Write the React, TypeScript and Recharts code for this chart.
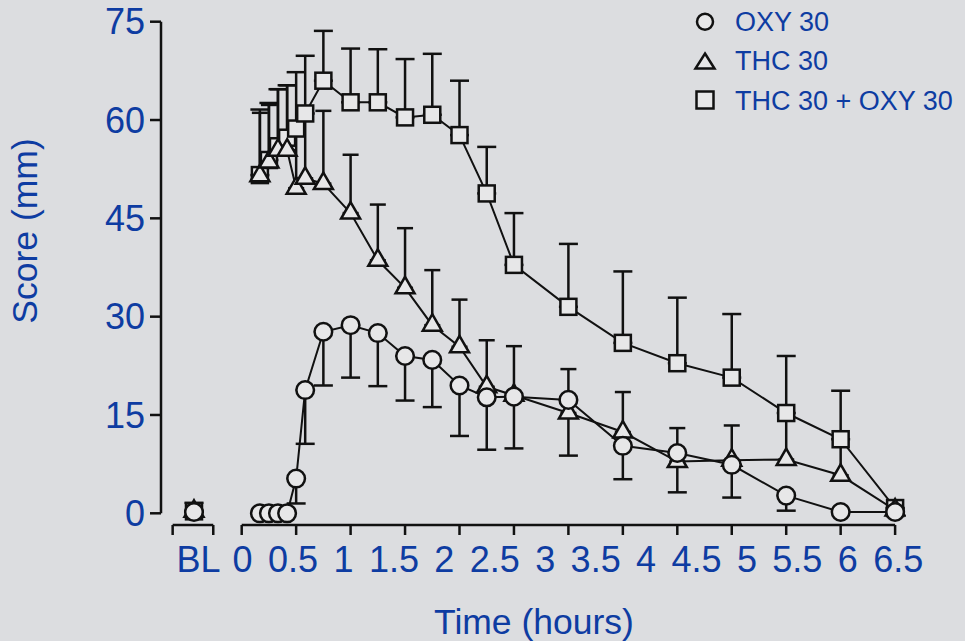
import { LineChart, Line, XAxis, YAxis, ErrorBar, ReferenceLine } from "recharts";

// sample times (hours after dosing)
const hours = [0.167, 0.25, 0.333, 0.417, 0.5, 0.583, 0.75, 1, 1.25, 1.5, 1.75, 2, 2.25, 2.5, 3, 3.5, 4, 4.5, 5, 5.5, 6];

const oxyMean = [0, 0, 0, 0, 5.3, 18.8, 27.7, 28.7, 27.5, 24.0, 23.4, 19.5, 17.7, 17.8, 17.3, 10.3, 9.2, 7.4, 2.7, 0.2, 0.2];
const oxyErr = [0, 0, 0, 0, 3.8, 8.2, 8.2, 8.0, 8.1, 6.8, 7.2, 7.7, 8.0, 7.9, 8.5, 5.1, 6.0, 5.0, 2.3, 0, 0];

const thcMean = [51.5, 53.6, 55.4, 55.4, 49.6, 51.1, 50.3, 45.8, 38.6, 34.4, 28.7, 25.4, 19.3, 18.0, 15.3, 12.4, 7.9, 8.1, 8.2, 5.8, 0.5];
const thcErr = [9.6, 8.7, 9.3, 9.9, 9.1, 9.9, 11.1, 8.9, 8.5, 9.1, 8.4, 7.2, 7.1, 7.5, 6.7, 6.1, 5.1, 5.3, 7.0, 5.5, 0];

const comboMean = [51.6, 53.9, 56.0, 57.3, 58.7, 61.0, 66.0, 62.7, 62.7, 60.4, 60.8, 57.7, 48.8, 37.9, 31.5, 26.0, 22.9, 20.7, 15.3, 11.3, 0.8];
const comboErr = [10.0, 8.7, 8.7, 8.0, 8.6, 8.8, 7.6, 8.2, 8.1, 8.9, 9.3, 8.3, 7.1, 7.9, 9.6, 10.9, 10.0, 9.7, 8.7, 7.4, 0];

// baseline (BL) values: OXY, THC, THC + OXY
const blMean = [0.2, 0.3, 0.3];
const blErr = [0, 0, 1.3];
const BL_POS = -0.438;

const yTicks = [0, 15, 30, 45, 60, 75];
const xTicks = [0, 0.5, 1, 1.5, 2, 2.5, 3, 3.5, 4, 4.5, 5, 5.5, 6];
const blBracket = [-0.634, -0.261];
const timeLabels = ["BL", "0", "0.5", "1", "1.5", "2", "2.5", "3", "3.5", "4", "4.5", "5", "5.5", "6", "6.5"];
const labelPos = [-0.437, 0, 0.5, 1, 1.5, 2, 2.5, 3, 3.5, 4, 4.5, 5, 5.5, 6, 6.5];

const X_MIN = -0.741;
const X_MAX = 6.1;
const L_MIN = -0.809;
const L_MAX = 6.577;
const Y_MIN = -1.785;
const TICK_END = -3.31;

const BG = "#dcdde0";
const FILL = "#e7e7e8";
const INK = "#111";
const BLUE = "#0e3ca2";
const FONT = '"Liberation Sans", Arial, Helvetica, sans-serif';

const toPoints = (mean: number[], err: number[], down: boolean) =>
  hours.map((t, i) => ({ t, y: mean[i], e: down ? [err[i], 0] : [0, err[i]] }));

const oxyData = toPoints(oxyMean, oxyErr, true);
const thcData = toPoints(thcMean, thcErr, false);
const comboData = toPoints(comboMean, comboErr, false);
const oxyBL = [{ t: BL_POS, y: blMean[0], e: [blErr[0], 0] }];
const thcBL = [{ t: BL_POS, y: blMean[1], e: [0, blErr[1]] }];
const comboBL = [{ t: BL_POS, y: blMean[2], e: [0, blErr[2]] }];
// anchors the label axis so it gets its own scale
const labelAnchor = [{ t: L_MIN, y: Y_MIN }, { t: L_MAX, y: Y_MIN }];

const labelFor = (v: number) => {
  const i = labelPos.findIndex((p) => Math.abs(p - v) < 1e-6);
  return i >= 0 ? timeLabels[i] : "";
};

function shapeAt(shape: string, cx: number, cy: number, key?: any) {
  if (shape === "circle")
    return <circle key={key} cx={cx} cy={cy} r={8.8} fill={FILL} stroke={INK} strokeWidth={2.5} />;
  if (shape === "square")
    return <rect key={key} x={cx - 8} y={cy - 8} width={16} height={16} fill={FILL} stroke={INK} strokeWidth={2.5} />;
  return (
    <polygon
      key={key}
      points={`${cx},${cy - 11} ${cx + 9.5},${cy + 5.5} ${cx - 9.5},${cy + 5.5}`}
      fill={FILL}
      stroke={INK}
      strokeWidth={2.5}
      strokeLinejoin="miter"
    />
  );
}

const dotFor = (shape: string) => (p: any) => {
  if (p.cx == null || p.cy == null) return <g key={`n${p.index}`} />;
  return shapeAt(shape, p.cx, p.cy, `${shape}${p.index}`);
};

export default function App() {
  const seriesList = [
    { id: "combo", data: comboData, bl: comboBL, shape: "square", cap: 9.5 },
    { id: "thc", data: thcData, bl: thcBL, shape: "triangle", cap: 8 },
    { id: "oxy", data: oxyData, bl: oxyBL, shape: "circle", cap: 9.5 },
  ];

  return (
    <div style={{ position: "absolute", left: 0, top: 0, width: 965, height: 641, background: BG, fontFamily: FONT }}>
      <LineChart width={965} height={641} margin={{ top: 21.7, right: 59, bottom: 0, left: 0 }}>
        <XAxis xAxisId="t" type="number" dataKey="t" domain={[X_MIN, X_MAX]} hide allowDataOverflow />
        <XAxis
          xAxisId="lab"
          type="number"
          dataKey="t"
          domain={[L_MIN, L_MAX]}
          ticks={labelPos}
          interval={0}
          tickFormatter={labelFor}
          axisLine={false}
          tickLine={false}
          tickSize={19}
          tickMargin={2}
          height={116}
          tick={{ fill: BLUE, fontSize: 36, fontFamily: FONT }}
          allowDataOverflow
        />
        <YAxis
          type="number"
          domain={[Y_MIN, 75]}
          ticks={yTicks}
          interval={0}
          width={161}
          axisLine={false}
          tickSize={11}
          tickMargin={5}
          tickLine={{ stroke: INK, strokeWidth: 2.5 }}
          tick={{ fill: BLUE, fontSize: 36, fontFamily: FONT }}
          allowDataOverflow
        />

        {/* offset axes */}
        <ReferenceLine
          xAxisId="t"
          segment={[{ x: X_MIN, y: 0 }, { x: X_MIN, y: 75 }]}
          stroke={INK}
          strokeWidth={2.5}
          ifOverflow="visible"
        />
        <ReferenceLine
          xAxisId="t"
          segment={[{ x: xTicks[0], y: Y_MIN }, { x: xTicks[xTicks.length - 1], y: Y_MIN }]}
          stroke={INK}
          strokeWidth={2.5}
          ifOverflow="visible"
        />
        <ReferenceLine
          xAxisId="t"
          segment={[{ x: blBracket[0], y: Y_MIN }, { x: blBracket[1], y: Y_MIN }]}
          stroke={INK}
          strokeWidth={2.5}
          ifOverflow="visible"
        />
        {[...blBracket, ...xTicks].map((v) => (
          <ReferenceLine
            key={`tk${v}`}
            xAxisId="t"
            segment={[{ x: v, y: Y_MIN }, { x: v, y: TICK_END }]}
            stroke={INK}
            strokeWidth={2.5}
            ifOverflow="visible"
          />
        ))}

        <Line
          xAxisId="lab"
          data={labelAnchor}
          dataKey="y"
          stroke="none"
          dot={false}
          activeDot={false}
          isAnimationActive={false}
        />

        {seriesList.map((s) => (
          <Line
            key={s.id}
            xAxisId="t"
            data={s.data}
            dataKey="y"
            type="linear"
            stroke={INK}
            strokeWidth={2}
            dot={dotFor(s.shape)}
            activeDot={false}
            isAnimationActive={false}
          >
            <ErrorBar dataKey="e" direction="y" width={s.cap} stroke={INK} strokeWidth={2.5} />
          </Line>
        ))}
        {seriesList.map((s) => (
          <Line
            key={`${s.id}-bl`}
            xAxisId="t"
            data={s.bl}
            dataKey="y"
            stroke={INK}
            strokeWidth={2}
            dot={dotFor(s.shape)}
            activeDot={false}
            isAnimationActive={false}
          >
            <ErrorBar dataKey="e" direction="y" width={s.cap} stroke={INK} strokeWidth={2.5} />
          </Line>
        ))}
      </LineChart>

      <svg
        width={965}
        height={641}
        style={{ position: "absolute", left: 0, top: 0, pointerEvents: "none" }}
      >
        <text transform="translate(37,231) rotate(-90)" textAnchor="middle" fill={BLUE} fontSize={35.5} fontFamily={FONT}>
          Score (mm)
        </text>
        <text x={534} y={633.5} textAnchor="middle" fill={BLUE} fontSize={35.5} fontFamily={FONT}>
          Time (hours)
        </text>

        <circle cx={705} cy={21.7} r={8} fill={FILL} stroke={INK} strokeWidth={2.5} />
        <text x={735} y={30.7} fill={BLUE} fontSize={27} fontFamily={FONT}>OXY 30</text>
        <polygon points="705,53.5 714.5,68.5 695.5,68.5" fill={FILL} stroke={INK} strokeWidth={2.5} />
        <text x={735} y={70} fill={BLUE} fontSize={27} fontFamily={FONT}>THC 30</text>
        <rect x={696.5} y={91.5} width={17} height={17} fill={FILL} stroke={INK} strokeWidth={2.5} />
        <text x={735} y={110} fill={BLUE} fontSize={27} fontFamily={FONT}>THC 30 + OXY 30</text>
      </svg>
    </div>
  );
}
